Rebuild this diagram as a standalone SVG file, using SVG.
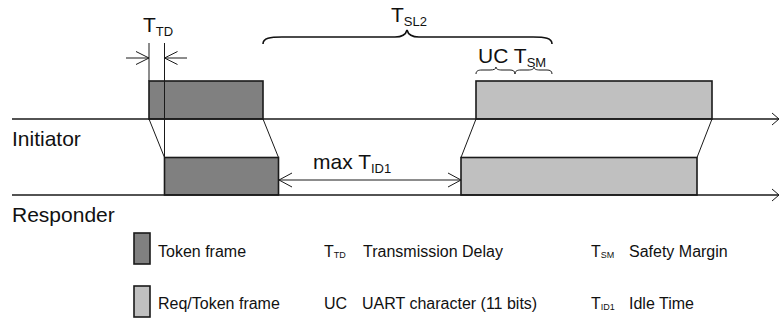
<svg xmlns="http://www.w3.org/2000/svg" width="781" height="321" viewBox="0 0 781 321">
<style>
text{font-family:"Liberation Sans",Arial,Helvetica,sans-serif;fill:#111}
.big{font-size:21px}
.leg{font-size:16px}
.dark{fill:#808080;stroke:#1a1a1a;stroke-width:1.6}
.light{fill:#c0c0c0;stroke:#1a1a1a;stroke-width:1.6}
.axis{stroke:#1a1a1a;stroke-width:1.6;fill:none}
.thin{stroke:#1a1a1a;stroke-width:1;fill:none}
.brace{stroke:#111;stroke-width:1.6;fill:none}
</style>
<rect width="781" height="321" fill="#fff"/>
<g id="frame-token-initiator"><rect class="dark" x="149" y="81" width="114" height="38"/></g>
<g id="frame-token-responder"><rect class="dark" x="164.5" y="157.5" width="114" height="37.5"/></g>
<g id="frame-req-initiator"><rect class="light" x="476" y="81" width="236" height="38"/></g>
<g id="frame-req-responder"><rect class="light" x="461" y="157.5" width="236" height="37.5"/></g>
<g id="connectors">
<line class="axis" x1="12" y1="119" x2="779" y2="119"/>
<polyline class="thin" points="772,113 779,119 772,125"/>
<line class="axis" x1="12" y1="195" x2="779" y2="195"/>
<polyline class="thin" points="772,189 779,195 772,201"/>
<line class="thin" x1="149" y1="119" x2="164.5" y2="157.5"/>
<line class="thin" x1="263" y1="119" x2="278.5" y2="157.5"/>
<line class="thin" x1="476" y1="119" x2="461" y2="157.5"/>
<line class="thin" x1="712" y1="119" x2="697" y2="157.5"/>
<line class="thin" x1="149" y1="43" x2="149" y2="81"/>
<line class="thin" x1="164.5" y1="43" x2="164.5" y2="157.5"/>
<line class="thin" x1="126" y1="58" x2="149" y2="58"/>
<polyline class="thin" points="136,51.5 149,58 136,64.5"/>
<line class="thin" x1="187" y1="58" x2="164.5" y2="58"/>
<polyline class="thin" points="177.5,51.5 164.5,58 177.5,64.5"/>
<line class="thin" x1="279" y1="180" x2="461" y2="180"/>
<polyline class="thin" points="292,173 279,180 292,187"/>
<polyline class="thin" points="448,173 461,180 448,187"/>
<path class="brace" d="M263,44 C263,38 270,37 282,37 L395,37 C402,37 406,34 407,30 C408,34 412,37 419,37 L533,37 C545,37 552,38 552,44"/>
<path class="thin" d="M476,74 C476,71 478,70 482,70 L490,70 C494,70 496,69 496,67 C496,69 498,70 502,70 L510,70 C513,70 515,71 515,74"/>
<path class="thin" d="M515,74 C515,71 517,70 521,70 L528,70 C532,70 534,69 534,67 C534,69 536,70 540,70 L547,70 C550,70 552,71 552,74"/>
</g>
<g id="labels">
<text class="big" x="143" y="32">T<tspan font-size="13" dy="4">TD</tspan></text>
<text class="big" x="391" y="22">T<tspan font-size="13" dy="4">SL2</tspan></text>
<text class="big" x="478" y="63">UC T<tspan font-size="13" dy="4">SM</tspan></text>
<text class="big" x="313" y="169">max T<tspan font-size="13" dy="4">ID1</tspan></text>
<text class="big" x="12" y="146">Initiator</text>
<text class="big" x="12" y="222">Responder</text>
</g>
<g id="legend">
<rect class="dark" x="134" y="233" width="16" height="31" stroke-width="2"/>
<rect class="light" x="134" y="286" width="16" height="31" stroke-width="2"/>
<text class="leg" x="158" y="257">Token frame</text>
<text class="leg" x="158" y="309">Req/Token frame</text>
<text class="leg" x="324" y="257">T<tspan font-size="9" dy="1">TD</tspan></text>
<text class="leg" x="363" y="257">Transmission Delay</text>
<text class="leg" x="324" y="309">UC</text>
<text class="leg" x="362" y="309">UART character (11 bits)</text>
<text class="leg" x="591" y="257">T<tspan font-size="9" dy="1">SM</tspan></text>
<text class="leg" x="629" y="257">Safety Margin</text>
<text class="leg" x="591" y="309">T<tspan font-size="9" dy="1">ID1</tspan></text>
<text class="leg" x="629" y="309">Idle Time</text>
</g>
</svg>
